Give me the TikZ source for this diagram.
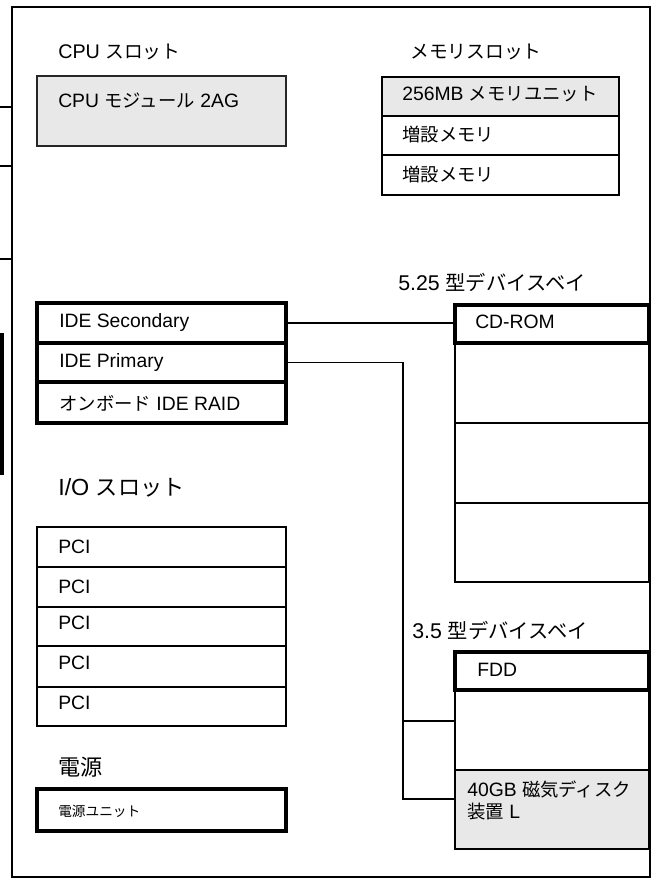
\documentclass[tikz,border=0pt]{standalone}
\usepackage{fontspec}
\setmainfont{Liberation Sans}
\newfontfamily\jpfont[Scale=0.95]{Noto Sans CJK JP}
\usetikzlibrary{fit}
\definecolor{boxgray}{HTML}{E8E8E8}
\begin{document}
\begin{tikzpicture}[x=0.75pt,y=-0.75pt,
  box/.style={draw, line width=1.1pt, inner sep=0pt},
  thickbox/.style={draw, line width=2.4pt, inner sep=0pt},
  grayfill/.style={fill=boxgray},
  txt/.style={anchor=west, inner sep=0pt, font=\fontsize{14.5}{16}\selectfont},
  title/.style={anchor=west, inner sep=0pt, font=\fontsize{14.8}{16}\selectfont},
  bigtitle/.style={anchor=west, inner sep=0pt, font=\fontsize{17.5}{19}\selectfont},
  baytitle/.style={anchor=west, inner sep=0pt, font=\fontsize{16}{18}\selectfont},
  small/.style={anchor=west, inner sep=0pt, font=\fontsize{10.8}{12}\selectfont},
  conn/.style={line width=1pt}
]
\useasboundingbox (0,0) rectangle (658,880);

% CPU
\node[title] (tcpu) at (58,52) {CPU {\jpfont スロット}};
\node[box, grayfill, draw=black!85, fit={(37,76) (286,146)}] (cpu) {};
\node[txt] (lcpu) at (58,101) {CPU {\jpfont モジュール} 2AG};

% Memory
\node[title] (tmem) at (410,52) {\jpfont メモリスロット};
\node[box, grayfill, fit={(382,77) (619,116)}] (mem1) {};
\node[box, fit={(382,116) (619,155)}] (mem2) {};
\node[box, fit={(382,155) (619,195)}] (mem3) {};
\node[txt] (lmem1) at (402,94) {256MB {\jpfont メモリユニット}};
\node[txt] (lmem2) at (402,135) {\jpfont 増設メモリ};
\node[txt] (lmem3) at (402,175) {\jpfont 増設メモリ};

% IDE
\node[thickbox, fit={(37,303) (286,343)}] (ides) {};
\node[thickbox, fit={(37,343) (286,382)}] (idep) {};
\node[thickbox, fit={(37,382) (286,423)}] (raid) {};
\node[txt] (lides) at (59,323) {IDE Secondary};
\node[txt] (lidep) at (59,363) {IDE Primary};
\node[txt] (lraid) at (59,403) {{\jpfont オンボード} IDE RAID};

% 5.25 bays
\node[baytitle] (t525) at (398,282) {5.25 {\jpfont 型デバイスベイ}};
\node[box, fit={(455,343) (649,423)}] (bay52) {};
\node[box, fit={(455,423) (649,503)}] (bay53) {};
\node[box, fit={(455,503) (649,582)}] (bay54) {};
\node[thickbox, fit={(455,305) (649,343)}] (cdrom) {};
\node[txt] (lcdrom) at (475,322) {CD-ROM};

% I/O
\node[bigtitle] (tio) at (58,488) {I/O {\jpfont スロット}};
\node[box, fit={(37,527) (286,567)}] (pci1) {};
\node[box, fit={(37,567) (286,607)}] (pci2) {};
\node[box, fit={(37,607) (286,646)}] (pci3) {};
\node[box, fit={(37,646) (286,687)}] (pci4) {};
\node[box, fit={(37,687) (286,726)}] (pci5) {};
\node[txt] (lpci1) at (58,547) {PCI};
\node[txt] (lpci2) at (58,587) {PCI};
\node[txt] (lpci3) at (58,623) {PCI};
\node[txt] (lpci4) at (58,663) {PCI};
\node[txt] (lpci5) at (58,703) {PCI};

% Power
\node[bigtitle] (tpsu) at (58,767) {\jpfont 電源};
\node[thickbox, fit={(37,789) (286,831)}] (psu) {};
\node[small] (lpsu) at (58,811) {\jpfont 電源ユニット};

% 3.5 bays
\node[baytitle] (t35) at (412,630) {3.5 {\jpfont 型デバイスベイ}};
\node[box, fit={(455,690) (649,770)}] (bay32) {};
\node[box, grayfill, fit={(455,770) (649,849)}] (hdd) {};
\node[thickbox, fit={(455,652) (649,690)}] (fdd) {};
\node[txt] (lfdd) at (477,670) {FDD};
\node[txt, font=\fontsize{14.5}{16}\selectfont] (lhdd1) at (467,789) {40GB {\jpfont 磁気ディスク}};
\node[txt, font=\fontsize{14.5}{16}\selectfont] (lhdd2) at (467,812) {{\jpfont 装置} L};

% connectors
\coordinate (bend) at (403,799);
\coordinate (tap) at (403,721);
\draw[conn] (ides.east) -- (ides.east -| cdrom.west);
\draw[conn] (idep.east) -| (bend) -- (bend -| hdd.west);
\draw[conn] (tap) -- (tap -| bay32.west);

% outer frame
\node[draw, line width=1.9pt, inner sep=0pt, fit={(12,7) (650,877)}] (frame) {};

% left stubs
\coordinate (s1) at (0,107);
\coordinate (s2) at (0,166);
\coordinate (s3) at (0,259);
\draw[line width=1.1pt] (s1) -- (s1 -| frame.west);
\draw[line width=1.1pt] (s2) -- (s2 -| frame.west);
\draw[line width=1.1pt] (s3) -- (s3 -| frame.west);
\fill (0,333) rectangle (3.5,475);
\end{tikzpicture}
\end{document}
